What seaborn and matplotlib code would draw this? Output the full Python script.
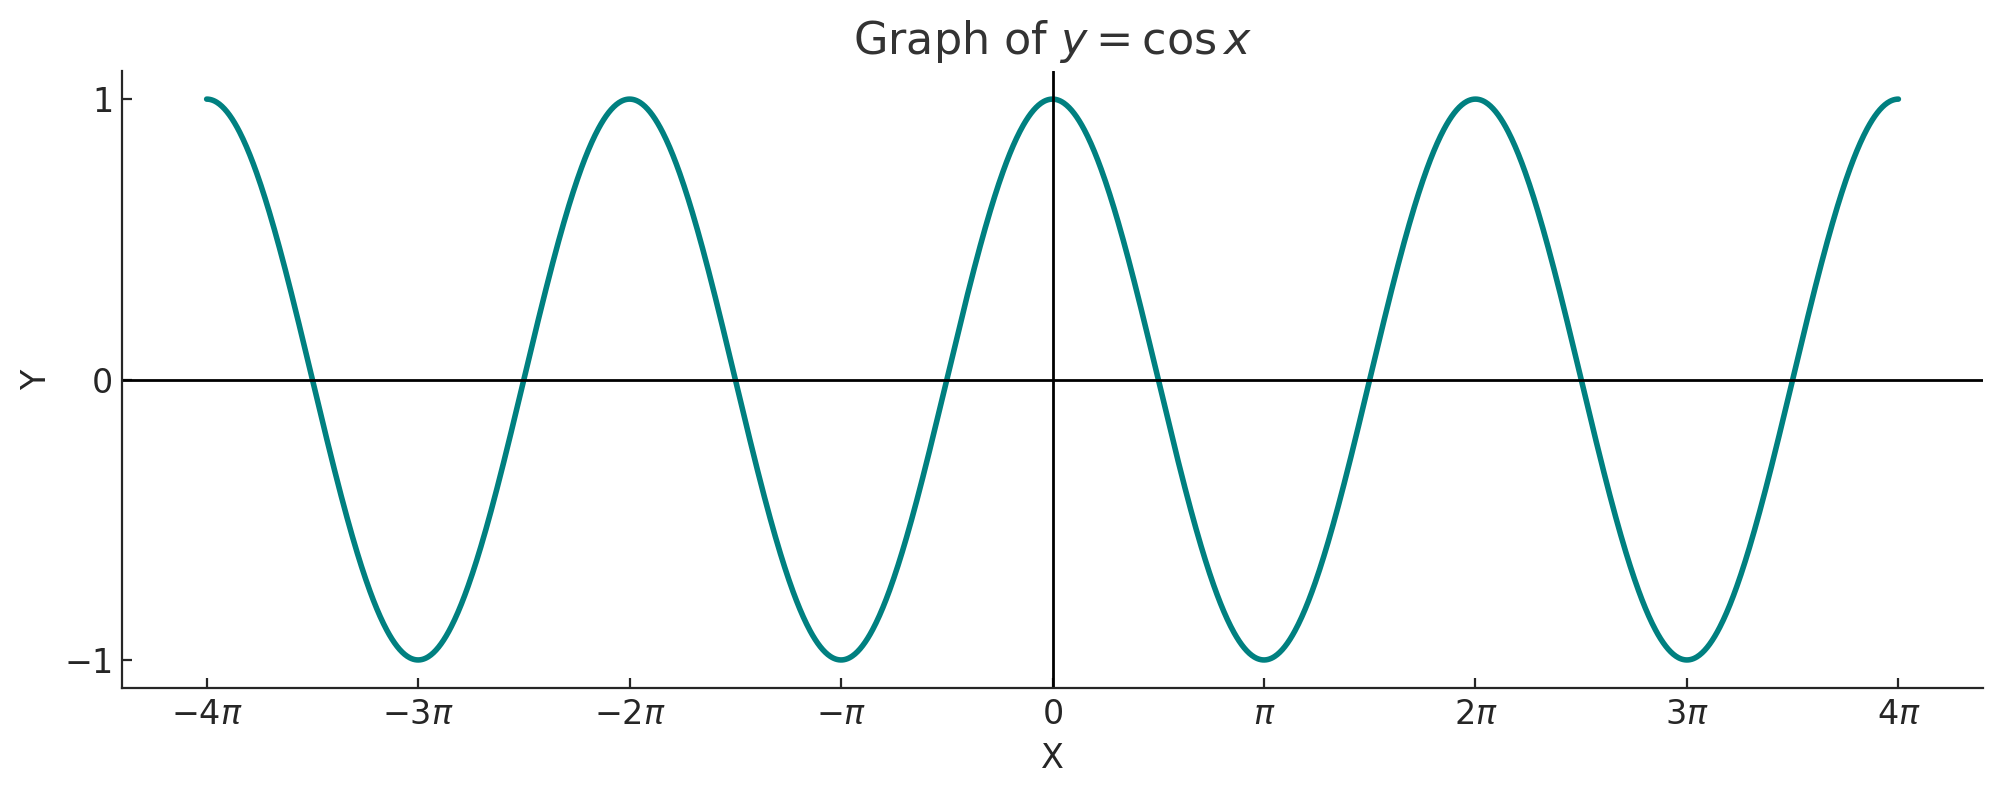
import numpy as np
import pandas as pd
import matplotlib
matplotlib.use("Agg")
import matplotlib.pyplot as plt
import seaborn as sns

# Data: the chart plots y = cos x over [-4π, 4π]
x_start = -4 * np.pi
x_end = 4 * np.pi
n_points = 2000
x_vals = np.linspace(x_start, x_end, n_points)
y_vals = np.cos(x_vals)

xtick_multiples = [-4, -3, -2, -1, 0, 1, 2, 3, 4]
xtick_labels = [r"$-4\pi$", r"$-3\pi$", r"$-2\pi$", r"$-\pi$", r"$0$",
                r"$\pi$", r"$2\pi$", r"$3\pi$", r"$4\pi$"]
ytick_values = [-1, 0, 1]
ytick_labels = [r"$-1$", r"$0$", r"$1$"]

df = pd.DataFrame({"x": x_vals, "y": y_vals})

sns.set_style("ticks", {"xtick.direction": "in", "ytick.direction": "in"})
plt.rcParams["font.family"] = ["DejaVu Sans"]

fig = plt.figure(figsize=(10.005, 3.975), dpi=200)
ax = fig.add_axes([0.061, 0.1346, 0.93, 0.776])

sns.lineplot(data=df, x="x", y="y", ax=ax, color="teal", linewidth=2)
ax.axhline(0, color="black", linewidth=1)
ax.axvline(0, color="black", linewidth=1)

ax.set_xticks([m * np.pi for m in xtick_multiples])
ax.set_xticklabels(xtick_labels, fontsize=12)
ax.set_yticks(ytick_values)
ax.set_yticklabels(ytick_labels, fontsize=12)
ax.set_xlabel("X", fontsize=12)
ax.set_ylabel("Y", fontsize=12)
ax.set_title(r"Graph of $y = \cos x$", fontsize=16, color=".2")
sns.despine(ax=ax)

fig.savefig("out.png", dpi=200)
